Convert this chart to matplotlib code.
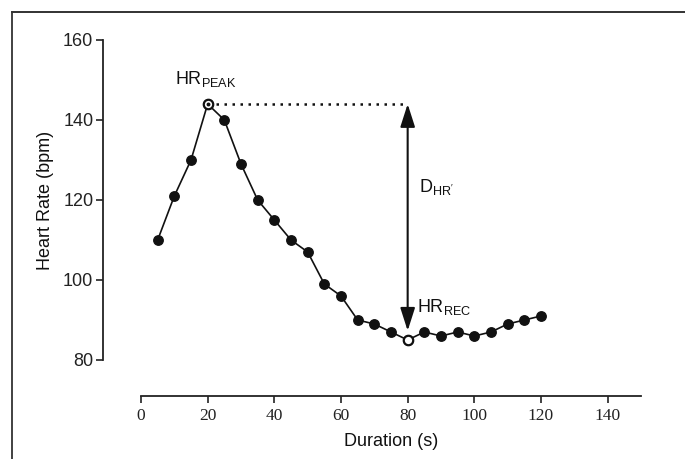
import matplotlib
matplotlib.use("Agg")
import matplotlib.pyplot as plt
from matplotlib.lines import Line2D

duration = [5, 10, 15, 20, 25, 30, 35, 40, 45, 50, 55, 60, 65, 70, 75, 80,
            85, 90, 95, 100, 105, 110, 115, 120]
heart_rate = [110, 121, 130, 144, 140, 129, 120, 115, 110, 107, 99, 96, 90, 89,
              87, 85, 87, 86, 87, 86, 87, 89, 90, 91]
peak_x, peak_y = 20, 144
rec_x, rec_y = 80, 85
x_ticks = [0, 20, 40, 60, 80, 100, 120, 140]
y_ticks = [80, 100, 120, 140, 160]

plt.rcParams['mathtext.fontset'] = 'custom'
plt.rcParams['mathtext.rm'] = 'Liberation Sans'
plt.rcParams['mathtext.it'] = 'Liberation Sans'
sans = 'Liberation Sans'
serif = 'Liberation Serif'
col = '#111111'
fs = 13

fig = plt.figure(figsize=(6.85, 4.59), dpi=100)
W, H = 685, 459
ax = fig.add_axes([141 / W, (H - 396) / H, 500 / W, 356 / H])
ax.set_xlim(0, 150)
ax.set_ylim(71, 160)

ax.plot(duration, heart_rate, color=col, lw=1.2, marker='o', ms=6.8,
        mfc=col, mec=col, clip_on=False, zorder=3)
# open markers at peak and recovery
ax.plot([peak_x], [peak_y], marker='o', ms=6.8, mfc='white', mec=col, mew=1.6,
        clip_on=False, zorder=4, ls='none')
ax.plot([peak_x], [peak_y], marker='o', ms=1.8, mfc=col, mec=col,
        clip_on=False, zorder=5, ls='none')
ax.plot([rec_x], [rec_y], marker='o', ms=6.8, mfc='white', mec=col, mew=1.6,
        clip_on=False, zorder=4, ls='none')

# dotted horizontal line
ax.plot([peak_x, rec_x], [peak_y, peak_y], color=col, lw=1.8, ls=(0, (1, 2.2)),
        zorder=2)
# double arrow
ax.annotate('', xy=(rec_x, peak_y), xytext=(rec_x, 87.3),
            arrowprops=dict(arrowstyle='<|-|>,head_length=1.0,head_width=0.32',
                            mutation_scale=14, color=col, lw=1.5,
                            shrinkA=0, shrinkB=0))

ax.text(19.5, 150.3, r'$\mathrm{HR_{PEAK}}$', ha='center', va='center',
        fontsize=fs, color=col)
ax.text(83.5, 123.3, r"$\mathrm{D_{HR'}}$", ha='left', va='center',
        fontsize=fs, color=col)
ax.text(82.8, 93.2, r'$\mathrm{HR_{REC}}$', ha='left', va='center',
        fontsize=fs, color=col)

for s in ['top', 'right']:
    ax.spines[s].set_visible(False)
ax.spines['left'].set_position(('outward', 38 * 72 / 100))
ax.spines['left'].set_bounds(80, 160)
ax.spines['bottom'].set_bounds(0, 150)
for s in ['left', 'bottom']:
    ax.spines[s].set_linewidth(1.3)
    ax.spines[s].set_color('#222222')

ax.set_xticks(x_ticks)
ax.set_yticks(y_ticks)
ax.tick_params(axis='both', direction='out', length=5, width=1.2, color='#222222')
ax.set_xticklabels([str(t) for t in x_ticks], fontfamily=serif, fontsize=12.5,
                   color='#222222')
ax.set_yticklabels([str(t) for t in y_ticks], fontfamily=sans, fontsize=fs,
                   color='#222222')
ax.tick_params(axis='y', pad=2)
ax.tick_params(axis='x', pad=4)

fig.text(45 / W, 1 - 200 / H, 'Heart Rate (bpm)', rotation=90, ha='center',
         va='center', fontfamily=sans, fontsize=fs, color=col)
fig.text(391 / W, 1 - 441 / H, 'Duration (s)', ha='center', va='center',
         fontfamily=sans, fontsize=fs, color=col)

# frame (top and left edges)
fig.add_artist(Line2D([12 / W, 1], [1 - 11.5 / H, 1 - 11.5 / H],
                      transform=fig.transFigure, color='#222222', lw=1.3))
fig.add_artist(Line2D([12 / W, 12 / W], [0, 1 - 11.5 / H],
                      transform=fig.transFigure, color='#333333', lw=1.3))

fig.savefig('out.png', dpi=100)
